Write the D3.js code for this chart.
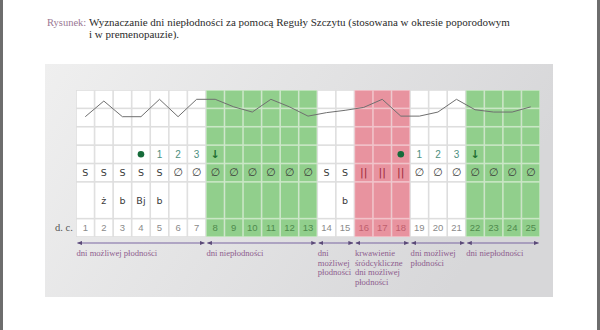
<!DOCTYPE html>
<html>
<head>
<meta charset="utf-8">
<script src="https://cdn.jsdelivr.net/npm/d3@7"></script>
<style>
  body { margin: 0; background: #fff; }
  svg { display: block; }
</style>
</head>
<body>
<script>
// cycle days and readings
const days = d3.range(1, 26);
const temps = [36.4, 36.67, 36.4, 36.4, 36.7, 36.4, 36.7, 36.7, 36.57, 36.48, 36.7, 36.57, 36.41,
               36.47, 36.51, 36.56, 36.7, 36.41, 36.41, 36.48, 36.7, 36.52, 36.48, 36.48, 36.57];
// w = white, g = green (infertile), p = pink (bleeding)
const dayType = ["w","w","w","w","w","w","w","g","g","g","g","g","g",
                 "w","w","p","p","p","w","w","w","g","g","g","g"];
const peakMarks = ["","","","dot","1","2","3","arrow","","","","","",
                   "","","","","dot","1","2","3","arrow","","",""];
const mucus = ["S","S","S","S","S","∅","∅","∅","∅","∅","∅","∅","∅",
               "S","S","||","||","||","∅","∅","∅","∅","∅","∅","∅"];
const notes = ["","ż","b","Bj","b","","","","","","","","",
               "","b","","","","","","","","","",""];
const phaseStart = [1, 8, 14, 16, 19, 22];
const phaseEnd = [7, 13, 15, 18, 21, 25];
const phaseLabels = [
  ["dni możliwej płodności"],
  ["dni niepłodności"],
  ["dni", "możliwej", "płodności"],
  ["krwawienie", "śródcykliczne", "dni możliwej", "płodności"],
  ["dni możliwej", "płodności"],
  ["dni niepłodności"]
];

const W = 600, H = 330;
const svg = d3.select("body").append("svg").attr("width", W).attr("height", H);

const defs = svg.append("defs");
const grad = defs.append("linearGradient").attr("id", "panel").attr("x1", "0").attr("x2", "1").attr("y1", "0").attr("y2", "0.3");
grad.append("stop").attr("offset", "0").attr("stop-color", "#efefef");
grad.append("stop").attr("offset", "1").attr("stop-color", "#d7d7d9");

defs.append("marker").attr("id", "ah").attr("viewBox", "0 0 6 6").attr("refX", 5.5).attr("refY", 3)
    .attr("markerWidth", 4.5).attr("markerHeight", 4.5).attr("orient", "auto-start-reverse")
  .append("path").attr("d", "M0,0.5 L6,3 L0,5.5 Z").attr("fill", "#5b4a78");

// page edges
svg.append("rect").attr("x", 0).attr("y", 0).attr("width", 3).attr("height", H).attr("fill", "#6d6d6d");
svg.append("rect").attr("x", W - 3).attr("y", 0).attr("width", 3).attr("height", H).attr("fill", "#6d6d6d");

// title
const title = svg.append("text").attr("font-family", "Liberation Serif, serif").attr("font-size", 11);
title.append("tspan").attr("x", 47).attr("y", 26).attr("fill", "#9a7894").attr("font-size", 10.5).text("Rysunek:");
title.append("tspan").attr("x", 89).attr("y", 26).attr("fill", "#2b2b2b")
  .text("Wyznaczanie dni niepłodności za pomocą Reguły Szczytu (stosowana w okresie poporodowym");
svg.append("text").attr("font-family", "Liberation Serif, serif").attr("font-size", 11)
  .attr("x", 89).attr("y", 38).attr("fill", "#2b2b2b").text("i w premenopauzie).");

// panel
svg.append("rect").attr("x", 45).attr("y", 64).attr("width", 508).attr("height", 233).attr("fill", "url(#panel)");

const x = d3.scaleBand().domain(days).range([76, 540]);
const row = d3.scaleLinear().domain([0, 8]).range([90, 237]);
const y = d3.scaleLinear().domain([36.4, 36.7]).range([116.7, 99.3]);

const fillC = {w: "#ffffff", g: "#91cf8c", p: "#e8939f"};
const gapC = {w: "#dedede", g: "#c9e7c5", p: "#f1c3ca"};
const dcText = {w: "#8a8a8a", g: "#4f8a4c", p: "#c0606e"};

// column backgrounds (gap colour)
svg.selectAll("rect.col").data(days).enter().append("rect")
  .attr("class", "col")
  .attr("x", d => x(d)).attr("y", row(0))
  .attr("width", x.bandwidth()).attr("height", row(8) - row(0))
  .attr("fill", (d, i) => gapC[dayType[i]]);

// cells: [start row, end row]
const rowSpans = [[0, 1], [1, 2], [2, 3], [3, 4], [4, 5], [5, 7], [7, 8]];
const cells = [];
days.forEach((d, i) => rowSpans.forEach(s => cells.push({d: d, i: i, s: s})));
svg.selectAll("rect.cell").data(cells).enter().append("rect")
  .attr("class", "cell")
  .attr("x", c => x(c.d) + 0.8).attr("y", c => row(c.s[0]) + 0.8)
  .attr("width", x.bandwidth() - 1.6).attr("height", c => row(c.s[1]) - row(c.s[0]) - 1.6)
  .attr("fill", c => fillC[dayType[c.i]]);

// temperature line
const line = d3.line().x((t, i) => x(days[i]) + x.bandwidth() / 2).y(t => y(t));
svg.append("path").datum(temps).attr("d", line)
  .attr("fill", "none").attr("stroke", "#6f6f6f").attr("stroke-width", 1);

const cx = d => x(d) + x.bandwidth() / 2;
const mid = r => (row(r) + row(r + 1)) / 2;

// peak marks row
const pm = svg.append("g");
days.forEach((d, i) => {
  const m = peakMarks[i];
  if (m === "dot") {
    pm.append("circle").attr("cx", cx(d)).attr("cy", mid(3)).attr("r", 3.3).attr("fill", "#166b3a");
  } else if (m === "arrow") {
    pm.append("text").attr("x", cx(d)).attr("y", mid(3) + 4).attr("text-anchor", "middle")
      .attr("font-family", "DejaVu Sans, sans-serif").attr("font-size", 11).attr("font-weight", "bold")
      .attr("fill", "#1f6e2f").text("↓");
  } else if (m) {
    pm.append("text").attr("x", cx(d)).attr("y", mid(3) + 3.5).attr("text-anchor", "middle")
      .attr("font-family", "Liberation Sans, sans-serif").attr("font-size", 10)
      .attr("fill", "#4d8f80").text(m);
  }
});

// mucus row
svg.selectAll("text.mucus").data(days).enter().append("text")
  .attr("class", "mucus")
  .attr("x", d => cx(d)).attr("y", mid(4) + 3.8).attr("text-anchor", "middle")
  .attr("font-family", "DejaVu Sans, sans-serif")
  .attr("font-size", (d, i) => mucus[i] === "S" ? 9.5 : 11)
  .attr("fill", (d, i) => mucus[i] === "||" ? "#9c2a3a" : "#3a3a3a")
  .text((d, i) => mucus[i]);

// notes row
svg.selectAll("text.note").data(days).enter().append("text")
  .attr("class", "note")
  .attr("x", d => cx(d)).attr("y", row(6) + 3.5).attr("text-anchor", "middle")
  .attr("font-family", "DejaVu Sans, sans-serif").attr("font-size", 9.5)
  .attr("fill", "#3a3a3a")
  .text((d, i) => notes[i]);

// day numbers
svg.selectAll("text.dc").data(days).enter().append("text")
  .attr("class", "dc")
  .attr("x", d => cx(d)).attr("y", mid(7) + 3.5).attr("text-anchor", "middle")
  .attr("font-family", "Liberation Sans, sans-serif").attr("font-size", 9.5)
  .attr("fill", (d, i) => dcText[dayType[i]])
  .text(d => d);
svg.append("text").attr("x", 55).attr("y", mid(7) + 3.5)
  .attr("font-family", "Liberation Serif, serif").attr("font-size", 10.5)
  .attr("fill", "#555").text("d. c.");

// phase arrows and labels
const ph = svg.append("g");
phaseStart.forEach((s, k) => {
  const x0 = x(s), x1 = x(phaseEnd[k]) + x.bandwidth();
  ph.append("line").attr("x1", x0 + 1.5).attr("x2", x1 - 1.5).attr("y1", 243).attr("y2", 243)
    .attr("stroke", "#7a66a2").attr("stroke-width", 1.1)
    .attr("marker-start", "url(#ah)").attr("marker-end", "url(#ah)");
  const t = ph.append("text").attr("font-family", "Liberation Serif, serif").attr("font-size", 8.6)
    .attr("fill", "#8e5d8e");
  phaseLabels[k].forEach((l, j) => {
    t.append("tspan").attr("x", x0 + 0.5).attr("y", 256 + j * 9.5).text(l);
  });
});
</script>
</body>
</html>
